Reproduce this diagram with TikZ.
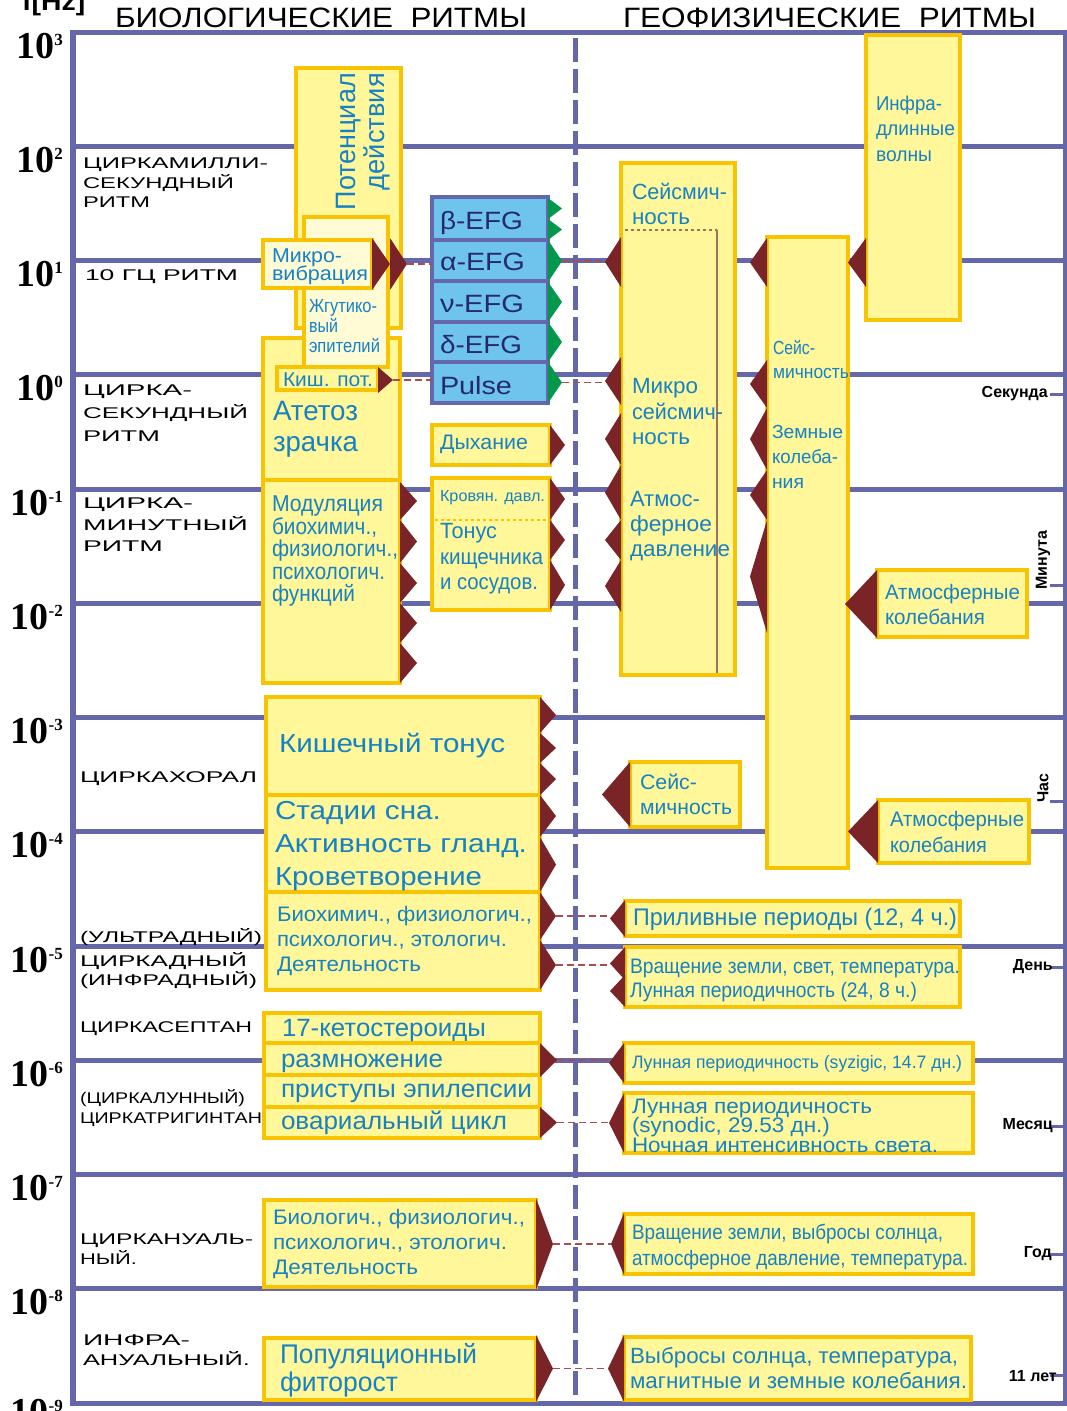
\documentclass[tikz,border=0pt]{standalone}
\usepackage{fontspec}
\usepackage{graphicx}
\setmainfont{Liberation Sans}
\newfontfamily\numfont{Liberation Serif}
\usetikzlibrary{calc}
\definecolor{gridc}{HTML}{6467AA}
\definecolor{yfill}{HTML}{FFF799}
\definecolor{lfill}{HTML}{FFFBD4}
\definecolor{ybord}{HTML}{F8C300}
\definecolor{bfill}{HTML}{6EC4EC}
\definecolor{navy}{HTML}{262A6C}
\definecolor{tblue}{HTML}{1582C6}
\definecolor{dred}{HTML}{7A2428}
\definecolor{gr}{HTML}{00984A}
\definecolor{connc}{HTML}{A4504E}
\definecolor{innerc}{HTML}{A0705A}
\tikzset{
  gline/.style={draw=gridc, line width=5pt},
  ybox/.style={draw=ybord, fill=yfill, line width=4.5pt, inner sep=0pt, outer sep=0pt},
  lbox/.style={ybox, fill=lfill},
  bbox/.style={draw=gridc, fill=bfill, line width=4pt, inner sep=0pt, outer sep=0pt},
  txt/.style={anchor=north west, inner sep=0pt, outer sep=0pt, align=left, text=tblue},
  lab/.style={text=black},
  connl/.style={draw=connc, dash pattern=on 7pt off 4pt, line width=1.5pt},
  tickl/.style={draw=gridc, line width=3pt},
  rlab/.style={font=\bfseries\fontsize{16}{16}\selectfont, inner sep=0pt, anchor=east, text=black},
}
\newcommand\tw[2]{\resizebox{#1pt}{\height}{#2}}
\newcommand\bx[6]{\node[#1, minimum width={(#5-#3)*1pt}, minimum height={(#6-#4)*1pt}] (#2) at ({(#3+#5)/2},{(#4+#6)/2}) {};}
\newcommand\TL[7][]{\node[txt,#1,font={\fontsize{#5}{#6}\selectfont\lineskiplimit=-50pt}] (#2) at (#3,{#4+0.3*#5-0.7*#6}) {\strut #7};}
\newcommand\tri[5][dred]{\fill[#1] (#2,#3) -- (#5,{(#3+#4)/2}) -- (#2,#4) -- cycle;}
\newcommand\trin[5]{\coordinate (#1) at (#5,{(#3+#4)/2}); \fill[dred] (#2,#3) -- (#1) -- (#2,#4) -- cycle;}
\newcommand\dec[4][26]{\node[anchor=base east, inner sep=0pt, font=\numfont\bfseries\fontsize{38}{38}\selectfont] (#2) at (63,{32+#3*114.25+#1}) {10\raisebox{13pt}{\fontsize{17}{17}\selectfont #4}};}
\begin{document}
\begin{tikzpicture}[x=1pt,y=-1pt]
\useasboundingbox (0,0) rectangle (1067,1411);
\fill[white] (0,0) rectangle (1067,1411);
% grid
\foreach \k in {0,...,12}{\draw[gline] (73,{32+\k*114.25}) -- (1065,{32+\k*114.25});}
\draw[gline, line width=6pt] (73,29.5) -- (73,1405.5);
\draw[gline, line width=4pt] (1065,29.5) -- (1065,1405.5);
\draw[gridc, line width=5pt, dash pattern=on 24pt off 7pt] (575,38) -- (575,1403);
% ticks right
\foreach \t in {394,585,801,967,1126,1254,1375}{\draw[tickl] (1050,\t) -- (1065,\t);}
% decade labels
\dec{d3}{0}{3}\dec{d2}{1}{2}\dec{d1}{2}{1}\dec{d0}{3}{0}
\dec{dm1}{4}{-1}\dec{dm2}{5}{-2}\dec{dm3}{6}{-3}\dec{dm4}{7}{-4}
\dec{dm5}{8}{-5}\dec{dm6}{9}{-6}\dec{dm7}{10}{-7}\dec{dm8}{11}{-8}\dec[21]{dm9}{12}{-9}
\node[anchor=base west, inner sep=0pt, font=\bfseries\fontsize{26}{26}\selectfont] (fhz) at (22,10) {\tw{63}{f[Hz]}};
% headers
\TL[lab]{hbio}{115}{19}{28}{30}{\tw{412}{БИОЛОГИЧЕСКИЕ\ \ РИТМЫ}}
\TL[lab]{hgeo}{623}{19}{28}{30}{\tw{413}{ГЕОФИЗИЧЕСКИЕ\ \ РИТМЫ}}
% left labels
\TL[lab]{l2}{83}{164}{15.5}{19.5}{\tw{185}{ЦИРКАМИЛЛИ-}\\\tw{151}{СЕКУНДНЫЙ}\\\tw{67}{РИТМ}}
\TL[lab]{l1}{85}{276}{15.5}{20}{\tw{153}{10 ГЦ РИТМ}}
\TL[lab]{l0}{83}{391}{15.5}{23}{\tw{109}{ЦИРКА-}\\\tw{165}{СЕКУНДНЫЙ}\\\tw{77}{РИТМ}}
\TL[lab]{lm1}{83}{504}{15.5}{21.5}{\tw{110}{ЦИРКА-}\\\tw{165}{МИНУТНЫЙ}\\\tw{80}{РИТМ}}
\TL[lab]{lm3}{80}{778}{15.5}{20}{\tw{177}{ЦИРКАХОРАЛ}}
\TL[lab]{lult}{80}{938}{15.5}{20}{\tw{182}{(УЛЬТРАДНЫЙ)}}
\TL[lab]{lcd}{80}{961}{15.5}{19.5}{\tw{167}{ЦИРКАДНЫЙ}\\\tw{177}{(ИНФРАДНЫЙ)}}
\TL[lab]{lsep}{80}{1028}{15.5}{20}{\tw{172}{ЦИРКАСЕПТАН}}
\TL[lab]{llun}{80}{1099}{15.5}{20}{\tw{165}{(ЦИРКАЛУННЫЙ)}\\\tw{182}{ЦИРКАТРИГИНТАН}}
\TL[lab]{lan}{80}{1240}{15.5}{19.5}{\tw{173}{ЦИРКАНУАЛЬ-}\\\tw{57}{НЫЙ.}}
\TL[lab]{linf}{83}{1341}{15.5}{20}{\tw{107}{ИНФРА-}\\\tw{167}{АНУАЛЬНЫЙ.}}
% right labels
\node[rlab] (sek) at (1048,394) {Секунда};
\node[rlab] (den) at (1053,967) {День};
\node[rlab] (mes) at (1053,1126) {Месяц};
\node[rlab] (god) at (1052,1254) {Год};
\node[rlab] (lett) at (1057,1376) {11 лет};
\node[rlab, rotate=90, anchor=center] (minu) at (1043,560) {Минута};
\node[rlab, rotate=90, anchor=center] (chas) at (1043,788) {Час};
% ---------- left boxes
\bx{ybox}{pot}{296}{68}{401}{328}
\bx{ybox}{ate}{263}{338}{400}{480}
\bx{lbox}{zhg}{304}{217}{388}{367}
\bx{lbox}{mik}{263}{240}{372}{288}
\bx{ybox}{kis}{277}{367}{378}{390}
\bx{ybox}{mod}{263}{480}{400}{683}
\bx{bbox}{efgb}{432}{197}{548}{240}
\bx{bbox}{efga}{432}{240}{548}{281}
\bx{bbox}{efgn}{432}{281}{548}{322}
\bx{bbox}{efgd}{432}{322}{548}{362}
\bx{bbox}{efgp}{432}{362}{548}{403}
\bx{ybox}{dyh}{432}{425}{550}{465}
\bx{ybox}{krv}{432}{478}{550}{610}
\draw[ybord, dashed, line width=1.5pt] (435,520) -- (547,520);
\bx{ybox}{kt}{266}{697}{540}{795}
\bx{ybox}{sts}{266}{795}{540}{892}
\bx{ybox}{bio}{266}{892}{540}{990}
\bx{ybox}{ket}{264}{1013}{540}{1043}
\bx{ybox}{raz}{264}{1043}{540}{1075}
\bx{ybox}{pri}{264}{1075}{540}{1107}
\bx{ybox}{ova}{264}{1107}{540}{1138}
\bx{ybox}{biol}{264}{1200}{536}{1287}
\bx{ybox}{pop}{264}{1338}{536}{1400}
% ---------- right boxes
\bx{ybox}{seis}{621}{163}{735}{675}
\draw[innerc, dashed, line width=1.3pt] (625,230) -- (717,230);
\draw[innerc, line width=1.3pt] (717,230) -- (717,673);
\bx{ybox}{zem}{767}{237}{848}{868}
\bx{ybox}{inf}{866}{35}{960}{320}
\bx{ybox}{atm1}{877}{570}{1027}{637}
\bx{ybox}{atm2}{878}{800}{1029}{863}
\bx{ybox}{sei2}{630}{762}{740}{827}
\bx{ybox}{pril}{625}{901}{960}{936}
\bx{ybox}{vra}{625}{947}{960}{1007}
\bx{ybox}{lun1}{624}{1043}{973}{1083}
\bx{ybox}{lun2}{624}{1093}{973}{1153}
\bx{ybox}{vra2}{624}{1214}{973}{1274}
\bx{ybox}{vyb}{624}{1337}{971}{1400}
% ---------- triangles
\tri{372}{238}{290}{390}\trin{mt}{390}{238}{290}{407}
\trin{kt1}{378}{367}{393}{393}
\tri{400}{482}{520}{417}\tri{400}{520}{563}{417}\tri{400}{563}{603}{417}\tri{400}{603}{643}{417}\tri{400}{643}{683}{417}
\tri[gr]{548}{198}{219}{562}\tri[gr]{548}{219}{240}{562}
\coordinate (g3) at (562,261);\tri[gr]{548}{240}{282}{562}
\tri[gr]{548}{282}{322}{562}\tri[gr]{548}{322}{362}{562}
\coordinate (g6) at (562,382.5);\tri[gr]{548}{362}{403}{562}
\tri{550}{425}{465}{565}
\tri{550}{478}{520}{565}\tri{550}{520}{560}{565}\tri{550}{560}{610}{565}
\tri{540}{697}{733}{556}\tri{540}{733}{763}{556}\tri{540}{763}{795}{556}
\tri{540}{795}{837}{556}\tri{540}{837}{892}{556}
\trin{lt1}{540}{892}{940}{556}\trin{lt2}{540}{940}{990}{556}
\trin{nt}{540}{1043}{1077}{557}
\trin{pt}{540}{1107}{1138}{557}
\trin{qt}{536}{1198}{1290}{553}
\trin{rt}{536}{1335}{1402}{553}
% right side (left-pointing)
\trin{st1}{621}{237}{287}{605}\trin{st2}{621}{357}{405}{605}
\tri{621}{413}{465}{605}\tri{621}{465}{520}{605}\tri{621}{520}{560}{605}\tri{621}{560}{612}{605}
\tri{767}{238}{287}{750}\tri{767}{360}{408}{750}\tri{767}{408}{470}{750}\tri{767}{470}{520}{750}\tri{767}{520}{633}{750}
\tri{866}{238}{287}{848}
\tri{877}{570}{638}{845}
\tri{878}{800}{863}{848}
\tri{630}{762}{827}{602}
\trin{yt}{625}{900}{937}{610}
\trin{zt1}{625}{947}{980}{610}\tri{625}{975}{1007}{610}
\trin{aat}{624}{1043}{1083}{609}
\trin{abt}{624}{1093}{1153}{609}
\trin{act}{624}{1213}{1275}{611}
\trin{adt}{624}{1335}{1402}{608}
% ---------- texts in boxes
\node[rotate=90, anchor=north east, inner sep=0pt, align=right, text=tblue, font=\fontsize{28}{29}\selectfont] (tpot) at (336,73) {\tw{137}{Потенциал}\\\tw{117}{действия}};
\TL{tmik}{272}{255}{20}{17.5}{\tw{70}{Микро-}\\\tw{96}{вибрация}}
\TL{tzhg}{309}{307}{19}{20}{\tw{68}{Жгутико-}\\\tw{29}{вый}\\\tw{71}{эпителий}}
\TL{tkis}{283}{380}{20}{24}{\tw{90}{Киш. пот.}}
\TL{tate}{273}{412}{28}{31}{\tw{85}{Атетоз}\\\tw{85}{зрачка}}
\TL{tmod}{272}{505}{23}{22.5}{\tw{111}{Модуляция}\\\tw{105}{биохимич.,}\\\tw{126}{физиологич.,}\\\tw{113}{психологич.}\\\tw{83}{функций}}
\TL[text=navy]{tb}{440}{222}{25}{30}{\tw{83}{β-EFG}}
\TL[text=navy]{ta}{440}{263}{25}{30}{\tw{85}{α-EFG}}
\TL[text=navy]{tn}{440}{305}{25}{30}{\tw{84}{ν-EFG}}
\TL[text=navy]{td}{440}{346}{25}{30}{\tw{82}{δ-EFG}}
\TL[text=navy]{tp}{440}{387}{25}{30}{\tw{72}{Pulse}}
\TL{tdyh}{440}{443}{21}{25}{\tw{88}{Дыхание}}
\TL{tkrv}{440}{497}{16}{20}{\tw{105}{Кровян. давл.}}
\TL{tton}{440}{532}{22}{25.5}{\tw{57}{Тонус}\\\tw{103}{кищечника}\\\tw{98}{и сосудов.}}
\TL{tkt}{279}{745}{26}{30}{\tw{226}{Кишечный тонус}}
\TL{tsts}{275}{812}{26}{33}{\tw{166}{Стадии сна.}\\\tw{252}{Активность гланд.}\\\tw{207}{Кроветворение}}
\TL{tbio}{277}{915}{21}{25}{\tw{255}{Биохимич., физиологич.,}\\\tw{230}{психологич., этологич.}\\\tw{144}{Деятельность}}
\TL{tket}{282}{1029}{25}{30}{\tw{204}{17-кетостероиды}}
\TL{traz}{281}{1060}{25}{30}{\tw{162}{размножение}}
\TL{tpri}{281}{1090}{25}{30}{\tw{251}{приступы эпилепсии}}
\TL{tova}{281}{1122}{25}{30}{\tw{226}{овариальный цикл}}
\TL{tbiol}{273}{1218}{21}{25}{\tw{252}{Биологич., физиологич.,}\\\tw{234}{психологич., этологич.}\\\tw{145}{Деятельность}}
\TL{tpop}{280}{1355}{27}{28}{\tw{197}{Популяционный}\\\tw{118}{фиторост}}
\TL{tseis}{632}{193}{22}{25}{\tw{95}{Сейсмич-}\\\tw{58}{ность}}
\TL{tinf}{876}{104}{20}{25.5}{\tw{66}{Инфра-}\\\tw{79}{длинные}\\\tw{56}{волны}}
\TL{tmsei}{632}{387}{22}{25.5}{\tw{66}{Микро}\\\tw{91}{сейсмич-}\\\tw{58}{ность}}
\TL{tatd}{630}{500}{22}{25}{\tw{70}{Атмос-}\\\tw{82}{ферное}\\\tw{100}{давление}}
\TL{tzs}{773}{349}{19}{24}{\tw{42}{Сейс-}\\\tw{76}{мичность}}
\TL{tzk}{772}{433}{19}{25}{\tw{71}{Земные}\\\tw{66}{колеба-}\\\tw{32}{ния}}
\TL{tat1}{885}{593}{21}{25}{\tw{135}{Атмосферные}\\\tw{100}{колебания}}
\TL{tat2}{890}{820}{21}{26}{\tw{134}{Атмосферные}\\\tw{97}{колебания}}
\TL{tsei2}{640}{783}{21}{25}{\tw{57}{Сейс-}\\\tw{92}{мичность}}
\TL{tpril}{633}{918}{24}{28}{\tw{324}{Приливные периоды (12, 4 ч.)}}
\TL{tvra}{630}{967}{21}{24}{\tw{330}{Вращение земли, свет, температура.}\\\tw{287}{Лунная периодичность (24, 8 ч.)}}
\TL{tlun1}{632}{1063}{18}{22}{\tw{330}{Лунная периодичность (syzigic, 14.7 дн.)}}
\TL{tlun2}{632}{1106}{21}{19.5}{\tw{240}{Лунная периодичность}\\\tw{198}{(synodic, 29.53 дн.)}\\\tw{306}{Ночная интенсивность света.}}
\TL{tvra2}{632}{1233}{21}{26}{\tw{311}{Вращение земли, выбросы солнца,}\\\tw{336}{атмосферное давление, температура.}}
\TL{tvyb}{630}{1357}{22}{25}{\tw{328}{Выбросы солнца, температура,}\\\tw{337}{магнитные и земные колебания.}}
% ---------- connectors
\draw[connl] (mt) -- (mt -| efga.west);
\draw[connl] (kt1) -- (kt1 -| efgp.west);
\draw[connl] (g3) -- (g3 -| st1);
\draw[connl] (g6) -- (g6 -| st2);
\draw[connl] (lt1) -- (lt1 -| yt);
\draw[connl] (lt2) -- (lt2 -| zt1);
\draw[connl] (nt) -- (nt -| aat);
\draw[connl] (pt) -- (pt -| abt);
\draw[connl] (qt) -- (qt -| act);
\draw[connl] (rt) -- (rt -| adt);
\end{tikzpicture}
\end{document}
